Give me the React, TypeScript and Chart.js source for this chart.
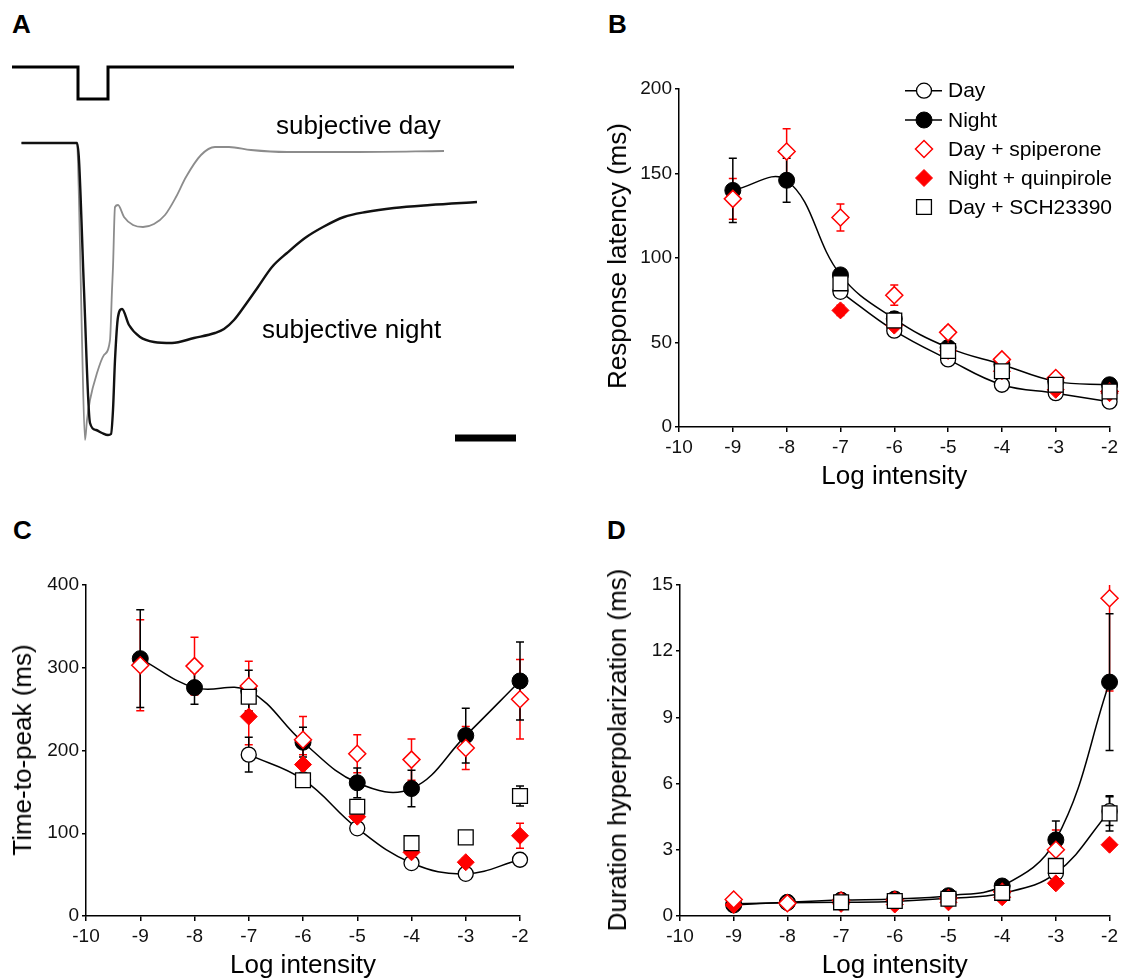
import React, { useEffect, useRef } from 'react';
import { Chart, registerables } from 'chart.js';

Chart.register(...registerables);

const FONT = '"Liberation Sans", Arial, Helvetica, sans-serif';
const RED = '#ff0000';
Chart.defaults.font.family = FONT;

// ---------- shared x values ----------
const logIntensity = [-9, -8, -7, -6, -5, -4, -3, -2];

// ---------- Panel B: Response latency (ms) ----------
const bDay = [null, null, 80, 57, 40, 25, 20, 15];
const bDayErr = [null, null, 3, 2, 2, 1.5, 1, 1];
const bNight = [140, 146, 90, 64, 47, 37, 27, 25];
const bNightErr = [19, 13, 3, 4, 2, 2, 1.5, 1];
const bSpip = [135, 163, 124, 78, 56, 40, 29, 21];
const bSpipErr = [12, 13.5, 8, 6, 3, 2.5, 2, 2];
const bQuin = [null, null, 69, 60, 45, 33, 22, 20];
const bQuinErr = [null, null, 3, 3, 2, 2, 2, 2];
const bSch = [null, null, 85, 63, 45, 33, 25, 21];
const bSchErr = [null, null, 5, 4, 3, 2, 2, 2];

// ---------- Panel C: Time-to-peak (ms) ----------
const cDay = [null, null, 195, 165, 106, 64, 51, 68];
const cDayErr = [null, null, 21, 5, 4, 3, 3, 3];
const cNight = [311, 276, 272, 210, 161, 154, 218, 284];
const cNightErr = [59, 20, 25, 18, 18, 22, 33, 47];
const cSpip = [303, 302, 278, 213, 196, 189, 203, 262];
const cSpipErr = [55, 35, 30, 28, 23, 25, 26, 48];
const cQuin = [null, null, 241, 183, 120, 77, 65, 97];
const cQuinErr = [null, null, 34, 12, 6, 5, 5, 15];
const cSch = [null, null, 265, 164, 132, 88, 95, 145];
const cSchErr = [null, null, 8, 5, 6, 4, 4, 12];

// ---------- Panel D: Duration hyperpolarization (ms) ----------
const dDay = [0.55, 0.6, 0.62, 0.66, 0.8, 1.03, 1.94, 4.75];
const dDayErr = [0.05, 0.05, 0.05, 0.05, 0.05, 0.1, 0.2, 0.65];
const dNight = [0.5, 0.62, 0.72, 0.77, 0.92, 1.36, 3.45, 10.6];
const dNightErr = [0.05, 0.05, 0.05, 0.05, 0.08, 0.1, 0.85, 3.1];
const dSpip = [0.75, 0.58, 0.7, 0.72, 0.8, 1.1, 3.0, 14.4];
const dSpipErr = [0.05, 0.05, 0.05, 0.05, 0.05, 0.1, 0.9, 4.2];
const dQuin = [0.5, 0.6, 0.55, 0.52, 0.62, 0.85, 1.48, 3.23];
const dQuinErr = [null, null, null, null, null, null, 0.1, 0.1];
const dSch = [null, null, 0.62, 0.68, 0.78, 1.05, 2.27, 4.65];
const dSchErr = [null, null, 0.05, 0.05, 0.05, 0.1, 0.2, 0.8];

// ---------- Panel A: traces (arbitrary time / amplitude units) ----------
const stimTime = [0, 66, 66, 96, 96, 502];
const stimLevel = [76, 76, 44, 44, 76, 76];
const nightTime = [9.5, 65, 67, 72, 78, 84, 90, 96, 99, 101, 103, 106, 110, 117, 128, 142, 160, 182, 203, 212, 222, 234, 246, 260, 275, 293, 311, 332, 354, 382, 418, 465];
const nightAmp = [0, 0, -17, -147, -280, -287, -290, -292, -291, -267, -217, -174, -166, -182, -194, -199, -200, -195, -190, -186, -177, -161, -144, -124, -110, -95, -84, -74, -69, -65, -62, -59];
const dayTime = [9.5, 65, 67, 70, 73, 75, 78, 85, 92, 98, 100, 101, 103, 106, 112, 121, 131, 142, 153, 164, 174, 189, 203, 217, 239, 275, 346, 432];
const dayAmp = [0, 0, -57, -197, -297, -277, -257, -230, -212, -197, -147, -124, -64, -62, -74, -82, -84, -81, -72, -54, -34, -12, -4, -4, -7, -9, -9, -8];
const scaleBarTime = [443, 504];
const scaleBarAmp = [-295, -295];

const seriesLabels = ['Day', 'Night', 'Day + spiperone', 'Night + quinpirole', 'Day + SCH23390'];

// ---------- plugins ----------
const errorBarPlugin = {
  id: 'errorBars',
  beforeDatasetsDraw(chart: any) {
    const ctx = chart.ctx;
    const xs = chart.scales.x;
    const ys = chart.scales.y;
    chart.data.datasets.forEach((ds: any) => {
      if (!ds.errors) return;
      ctx.save();
      ctx.strokeStyle = ds.errorColor;
      ctx.lineWidth = 1.5;
      ds.data.forEach((p: any, i: number) => {
        const e = ds.errors[i];
        if (p.y == null || e == null) return;
        const px = xs.getPixelForValue(p.x);
        const hiV = Math.min(p.y + e, ys.max);
        const loV = Math.max(p.y - e, ys.min);
        const hi = ys.getPixelForValue(hiV);
        const lo = ys.getPixelForValue(loV);
        ctx.beginPath();
        ctx.moveTo(px, hi);
        ctx.lineTo(px, lo);
        if (p.y + e <= ys.max) {
          ctx.moveTo(px - 4, hi);
          ctx.lineTo(px + 4, hi);
        }
        ctx.moveTo(px - 4, lo);
        ctx.lineTo(px + 4, lo);
        ctx.stroke();
      });
      ctx.restore();
    });
  },
};

function drawMarker(ctx: CanvasRenderingContext2D, style: string, x: number, y: number, r: number, fill: string, stroke: string, lw: number) {
  ctx.save();
  ctx.beginPath();
  if (style === 'circle') {
    ctx.arc(x, y, r, 0, Math.PI * 2);
  } else if (style === 'rectRot') {
    ctx.moveTo(x, y - r);
    ctx.lineTo(x + r, y);
    ctx.lineTo(x, y + r);
    ctx.lineTo(x - r, y);
    ctx.closePath();
  } else {
    const s = r * Math.SQRT1_2;
    ctx.rect(x - s, y - s, 2 * s, 2 * s);
  }
  ctx.fillStyle = fill;
  ctx.fill();
  ctx.lineWidth = lw;
  ctx.strokeStyle = stroke;
  ctx.stroke();
  ctx.restore();
}

const legendPlugin = {
  id: 'figLegend',
  afterDraw(chart: any) {
    const opts = chart.options.plugins.figLegend;
    if (!opts || !opts.display) return;
    const ctx = chart.ctx;
    const rows = [20.7, 50, 79, 108, 137];
    const mx = 334;
    const tx = 358;
    seriesLabels.forEach((lab, k) => {
      const ds = chart.data.datasets.find((d: any) => d.label === lab);
      if (!ds) return;
      const y = rows[k];
      if (ds.showLine) {
        ctx.save();
        ctx.strokeStyle = '#000';
        ctx.lineWidth = 1.5;
        ctx.beginPath();
        ctx.moveTo(315, y);
        ctx.lineTo(352, y);
        ctx.stroke();
        ctx.restore();
      }
      drawMarker(ctx, ds.pointStyle, mx, y, ds.pointRadius, ds.pointBackgroundColor, ds.pointBorderColor, ds.pointBorderWidth);
      ctx.save();
      ctx.fillStyle = '#000';
      ctx.font = `21px ${FONT}`;
      ctx.textBaseline = 'middle';
      ctx.textAlign = 'left';
      ctx.fillText(lab, tx, y + 1);
      ctx.restore();
    });
  },
};

Chart.register(errorBarPlugin as any, legendPlugin as any);

// ---------- helpers ----------
function pts(vals: (number | null)[]) {
  return logIntensity.map((x, i) => ({ x, y: vals[i] }));
}

function makeDatasets(day: any[], dayE: any[], night: any[], nightE: any[], spip: any[], spipE: any[], quin: any[], quinE: any[], sch: any[], schE: any[]) {
  return [
    {
      label: seriesLabels[4], data: pts(sch), errors: schE, errorColor: '#000',
      pointStyle: 'rect', pointRadius: 10.5, pointBackgroundColor: '#fff', pointBorderColor: '#000', pointBorderWidth: 1.3,
      showLine: false, order: 0, clip: false,
    },
    {
      label: seriesLabels[2], data: pts(spip), errors: spipE, errorColor: RED,
      pointStyle: 'rectRot', pointRadius: 8.5, pointBackgroundColor: '#fff', pointBorderColor: RED, pointBorderWidth: 1.5,
      showLine: false, order: 1, clip: false,
    },
    {
      label: seriesLabels[3], data: pts(quin), errors: quinE, errorColor: RED,
      pointStyle: 'rectRot', pointRadius: 8.5, pointBackgroundColor: RED, pointBorderColor: RED, pointBorderWidth: 1,
      showLine: false, order: 2, clip: false,
    },
    {
      label: seriesLabels[0], data: pts(day), errors: dayE, errorColor: '#000',
      pointStyle: 'circle', pointRadius: 7.5, pointBackgroundColor: '#fff', pointBorderColor: '#000', pointBorderWidth: 1.3,
      showLine: true, borderColor: '#000', borderWidth: 1.5, tension: 0.4, order: 3, clip: false,
    },
    {
      label: seriesLabels[1], data: pts(night), errors: nightE, errorColor: '#000',
      pointStyle: 'circle', pointRadius: 8, pointBackgroundColor: '#000', pointBorderColor: '#000', pointBorderWidth: 1,
      showLine: true, borderColor: '#000', borderWidth: 1.5, tension: 0.4, order: 4, clip: false,
    },
  ];
}

function makeScales(yMax: number, yStep: number, yWidth: number) {
  const tickFont = { family: FONT, size: 19 };
  return {
    x: {
      type: 'linear', min: -10, max: -2,
      ticks: { stepSize: 1, color: '#111', font: tickFont, padding: 4, maxRotation: 0, autoSkip: false },
      grid: { display: true, drawOnChartArea: false, drawTicks: true, tickLength: 5, color: '#000', lineWidth: 1.5 },
      border: { display: true, color: '#000', width: 1.5 },
      title: { display: true, text: 'Log intensity', color: '#000', font: { family: FONT, size: 26, lineHeight: 1 }, padding: { top: 0, bottom: 0 } },
      afterFit: (s: any) => { s.height = 63; },
    },
    y: {
      type: 'linear', min: 0, max: yMax,
      ticks: { stepSize: yStep, color: '#111', font: tickFont, padding: 3 },
      grid: { display: true, drawOnChartArea: false, drawTicks: true, tickLength: 4, color: '#000', lineWidth: 1.5 },
      border: { display: true, color: '#000', width: 1.5 },
      afterFit: (s: any) => { s.width = yWidth; },
    },
  };
}

function dataChart(datasets: any[], yMax: number, yStep: number, yWidth: number, padding: any, legend: boolean) {
  return {
    type: 'scatter',
    data: { datasets },
    options: {
      responsive: false,
      maintainAspectRatio: false,
      animation: false,
      events: [],
      layout: { padding },
      plugins: { legend: { display: false }, tooltip: { enabled: false }, figLegend: { display: legend } },
      scales: makeScales(yMax, yStep, yWidth),
    },
  };
}

function traceChart() {
  const xy = (t: number[], v: number[]) => t.map((x, i) => ({ x, y: v[i] }));
  return {
    type: 'scatter',
    data: {
      datasets: [
        { label: 'stimulus', data: xy(stimTime, stimLevel), showLine: true, borderColor: '#000', borderWidth: 3, pointRadius: 0, tension: 0, borderJoinStyle: 'miter', order: 0, clip: false },
        { label: 'subjective night', data: xy(nightTime, nightAmp), showLine: true, borderColor: '#111', borderWidth: 2.4, pointRadius: 0, cubicInterpolationMode: 'monotone', order: 1, clip: false },
        { label: 'subjective day', data: xy(dayTime, dayAmp), showLine: true, borderColor: '#8c8c8c', borderWidth: 1.8, pointRadius: 0, cubicInterpolationMode: 'monotone', order: 2, clip: false },
        { label: 'scale bar', data: xy(scaleBarTime, scaleBarAmp), showLine: true, borderColor: '#000', borderWidth: 7, borderCapStyle: 'butt', pointRadius: 0, tension: 0, order: 0, clip: false },
      ],
    },
    options: {
      responsive: false,
      maintainAspectRatio: false,
      animation: false,
      events: [],
      layout: { padding: 0 },
      plugins: { legend: { display: false }, tooltip: { enabled: false }, figLegend: { display: false } },
      scales: {
        x: { type: 'linear', display: false, min: 0, max: 510 },
        y: { type: 'linear', display: false, min: -312, max: 88 },
      },
    },
  };
}

function ChartBox(props: { left: number; top: number; width: number; height: number; make: () => any }) {
  const ref = useRef<HTMLCanvasElement>(null);
  useEffect(() => {
    const chart = new Chart(ref.current as HTMLCanvasElement, props.make());
    return () => chart.destroy();
  }, []);
  return (
    <canvas
      ref={ref}
      width={props.width}
      height={props.height}
      style={{ position: 'absolute', left: props.left, top: props.top, width: props.width, height: props.height }}
    />
  );
}

const textBase: React.CSSProperties = {
  position: 'absolute',
  fontFamily: FONT,
  color: '#000',
  whiteSpace: 'nowrap',
};

function Letter({ ch, left, top }: { ch: string; left: number; top: number }) {
  return <div style={{ ...textBase, left, top, fontSize: 26, lineHeight: '26px', fontWeight: 'bold' }}>{ch}</div>;
}

function YTitle({ text, cx, cy }: { text: string; cx: number; cy: number }) {
  return (
    <div
      style={{
        ...textBase, left: cx, top: cy, fontSize: 26, lineHeight: '26px',
        transform: 'translate(-50%, -50%) rotate(-90deg)',
      }}
    >
      {text}
    </div>
  );
}

export default function App() {
  return (
    <div style={{ position: 'absolute', left: 0, top: 0, width: 1122, height: 979, background: '#fff', overflow: 'hidden' }}>
      <Letter ch="A" left={12} top={11} />
      <Letter ch="B" left={608} top={11} />
      <Letter ch="C" left={13} top={517} />
      <Letter ch="D" left={607} top={517} />

      <ChartBox left={12} top={55} width={510} height={400} make={traceChart} />
      <div style={{ ...textBase, left: 276, top: 112, fontSize: 26, lineHeight: '26px' }}>subjective day</div>
      <div style={{ ...textBase, left: 262, top: 316, fontSize: 26, lineHeight: '26px' }}>subjective night</div>

      <ChartBox
        left={590} top={70} width={532} height={420}
        make={() => dataChart(makeDatasets(bDay, bDayErr, bNight, bNightErr, bSpip, bSpipErr, bQuin, bQuinErr, bSch, bSchErr), 200, 50, 89, { top: 19, right: 12, left: 0, bottom: 0 }, true)}
      />
      <YTitle text="Response latency (ms)" cx={617} cy={256} />

      <ChartBox
        left={0} top={565} width={540} height={414}
        make={() => dataChart(makeDatasets(cDay, cDayErr, cNight, cNightErr, cSpip, cSpipErr, cQuin, cQuinErr, cSch, cSchErr), 400, 100, 86, { top: 20, right: 20, left: 0, bottom: 0 }, false)}
      />
      <YTitle text="Time-to-peak (ms)" cx={22} cy={750} />

      <ChartBox
        left={590} top={565} width={532} height={414}
        make={() => dataChart(makeDatasets(dDay, dDayErr, dNight, dNightErr, dSpip, dSpipErr, dQuin, dQuinErr, dSch, dSchErr), 15, 3, 90, { top: 20, right: 10, left: 0, bottom: 0 }, false)}
      />
      <YTitle text="Duration hyperpolarization (ms)" cx={617} cy={750} />
    </div>
  );
}
